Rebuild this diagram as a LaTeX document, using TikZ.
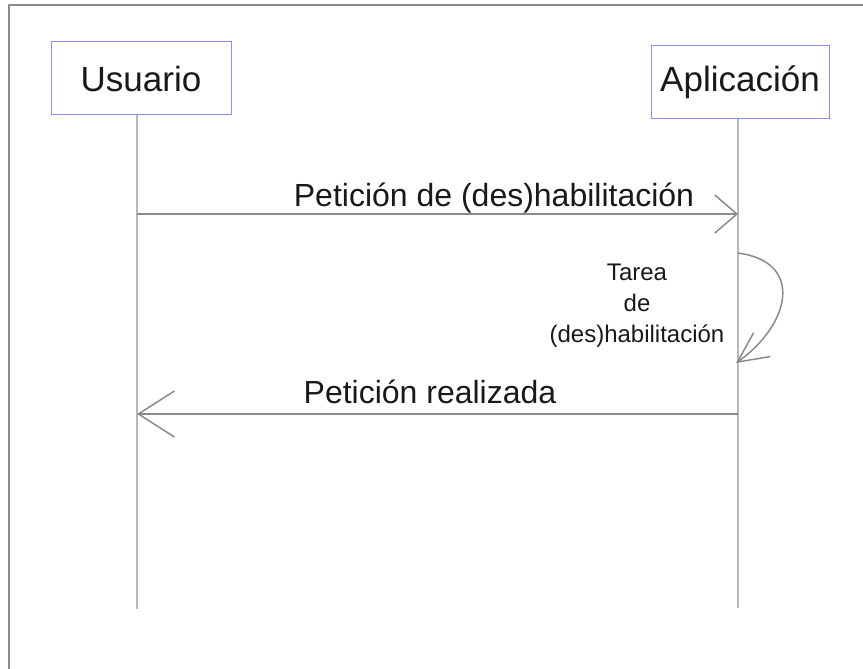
\documentclass[tikz,border=0pt]{standalone}
\usepackage{fontspec}
\setmainfont{Liberation Sans}
\usetikzlibrary{arrows.meta, positioning}
\definecolor{boxblue}{HTML}{8C8CFF}
\definecolor{lifegray}{HTML}{B8B8B8}
\definecolor{msggray}{HTML}{8A8A8A}
\definecolor{framegray}{HTML}{8C8C8C}
\tikzstyle{actor} = [rectangle, draw=boxblue, line width=1pt, text=black!90, font=\fontsize{35}{40}\selectfont, minimum height=73pt, inner sep=0pt]
\tikzstyle{lifeline} = [draw=lifegray, line width=1.5pt]
\tikzstyle{msg} = [draw=msggray, line width=1.5pt]
\tikzstyle{msglabel} = [anchor=base, inner sep=0pt, text=black!90, font=\fontsize{32}{38}\selectfont]

\begin{document}
\begin{tikzpicture}[x=1pt, y=-1pt]
    \useasboundingbox (0,0) rectangle (863,669);

    % Frame
    \draw [framegray, line width=2pt] (9,669) -- (9,5) -- (863,5);

    % Actors
    \node (usr) [actor, minimum width=180pt] at (141,78.5) {Usuario};
    \node (app) [actor, minimum width=178pt] at (740,82.5) {Aplicación};

    % Lifelines
    \coordinate (usr_top) at (137,115);
    \coordinate (usr_bot) at (137,609);
    \coordinate (app_top) at (738,119);
    \coordinate (app_bot) at (738,608);
    \draw [lifeline] (usr_top) -- (usr_bot);
    \draw [lifeline] (app_top) -- (app_bot);

    % Request
    \coordinate (req_from) at (137,214);
    \coordinate (req_to) at (738,214);
    \node (req_label) [msglabel] at (494,206) {Petición de (des)habilitación};
    \draw [msg, -{Straight Barb[length=22pt, width=38pt]}] (req_from) -- (req_to);

    % Self task
    \coordinate (task_from) at (738,253);
    \coordinate (task_to) at (736,363);
    \node (task_label) [align=center, inner sep=0pt, text=black!90, font=\fontsize{24}{31}\selectfont] at (637,306) {Tarea\\de\\(des)habilitación};
    \draw [msg, -{Straight Barb[length=30pt, width=29pt]}] (task_from) .. controls (805,262) and (790,325) .. (task_to);

    % Reply
    \coordinate (done_from) at (738,414);
    \coordinate (done_to) at (137,414);
    \node (done_label) [msglabel] at (430,403) {Petición realizada};
    \draw [msg, -{Straight Barb[length=36pt, width=46pt]}] (done_from) -- (done_to);

\end{tikzpicture}
\end{document}
